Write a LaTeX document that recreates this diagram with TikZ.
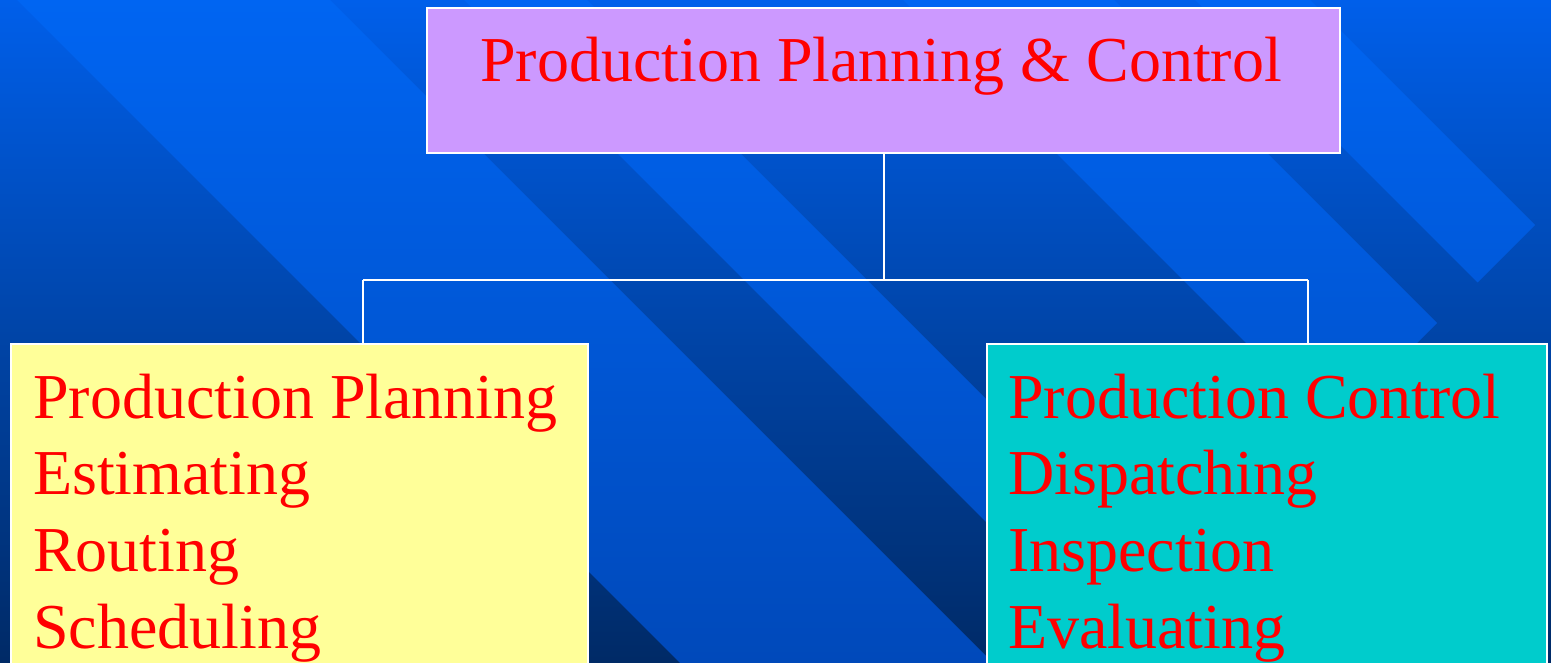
\documentclass[tikz,border=0pt]{standalone}
\usepackage{fontspec}
\setmainfont{Liberation Serif}
\definecolor{bgtop}{HTML}{005FEA}
\definecolor{bgmid}{HTML}{0047B2}
\definecolor{bgbot}{HTML}{002A66}
\definecolor{sttop}{HTML}{0065F2}
\definecolor{stmid}{HTML}{0057D8}
\definecolor{stbot}{HTML}{0049BA}
\definecolor{boxpurple}{HTML}{CC99FF}
\definecolor{boxyellow}{HTML}{FFFF99}
\definecolor{boxcyan}{HTML}{00CCCC}
\definecolor{txtred}{HTML}{FF0000}
\tikzset{
  boxnode/.style={draw=white, line width=2pt, inner sep=0pt, rectangle},
  label text/.style={text=txtred, inner sep=0pt, font=\fontsize{64}{77}\selectfont},
  wire/.style={draw=white, line width=2pt},
  stripeshade/.style={top color=sttop, middle color=stmid, bottom color=stbot},
  bgshade/.style={top color=bgtop, middle color=bgmid, bottom color=bgbot}
}
\begin{document}
\begin{tikzpicture}[x=1pt,y=-1pt]
\useasboundingbox (0,0) rectangle (1551,663);
\clip (0,0) rectangle (1551,663);
% background
\shade[bgshade] (0,0) rectangle (1551,663);
% diagonal stripes
\foreach \a/\b/\c/\d/\e/\f in {
  -83/230/1045/715/888.5/871.5,
  364/487/1173.5/586.5/1112/648,
  803/1014/1437/323/1331.5/428.5,
  1095/1210/1535/225/1477.5/282.5}{
  \begin{scope}
    \clip (\a,-100) -- (\b,-100) -- (\c,\d) -- (\e,\f) -- cycle;
    \shade[stripeshade] (0,0) rectangle (1551,663);
  \end{scope}
}
% boxes
\node[boxnode, fill=boxpurple, minimum width=913pt, minimum height=145pt] (top) at (883.5,80.5) {};
\node[boxnode, fill=boxyellow, minimum width=577pt, minimum height=400pt] (pp) at (299.5,544) {};
\node[boxnode, fill=boxcyan, minimum width=560pt, minimum height=400pt] (pc) at (1267,544) {};
% texts
\node[label text, anchor=base west] (ttl) at (480,82) {Production Planning \& Control};
\node[label text, anchor=base west] (pp1) at (33,418) {Production Planning};
\node[label text, anchor=base west] (pp2) at (33,494.7) {Estimating};
\node[label text, anchor=base west] (pp3) at (33,571.3) {Routing};
\node[label text, anchor=base west] (pp4) at (33,648) {Scheduling};
\node[label text, anchor=base west] (pc1) at (1008,418) {Production Control};
\node[label text, anchor=base west] (pc2) at (1008,494.7) {Dispatching};
\node[label text, anchor=base west] (pc3) at (1008,571.3) {Inspection};
\node[label text, anchor=base west] (pc4) at (1008,648) {Evaluating};
% connectors
\coordinate (lj) at (363,280);
\coordinate (rj) at (1308,280);
\coordinate (mj) at (883.5,280);
\draw[wire] (top.south) -- (mj);
\draw[wire] (lj) -- (rj);
\draw[wire] (lj) -- (lj |- pp.north);
\draw[wire] (rj) -- (rj |- pc.north);
\end{tikzpicture}
\end{document}
